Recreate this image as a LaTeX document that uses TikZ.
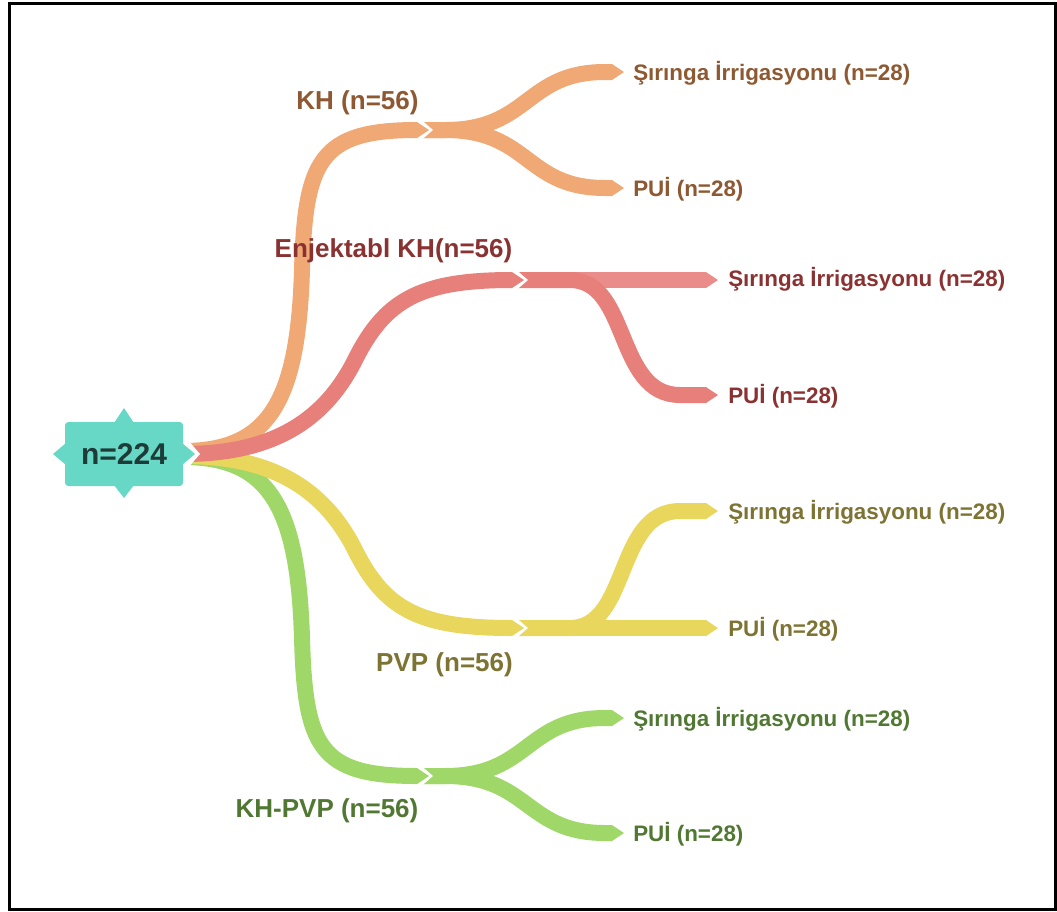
\documentclass[tikz,border=0pt]{standalone}
\usepackage{fontspec}
\setmainfont{Liberation Sans}
\definecolor{orB}{HTML}{F0A875}
\definecolor{orT}{HTML}{8E5932}
\definecolor{rdB}{HTML}{E77F7A}
\definecolor{rdL}{HTML}{EA8D8A}
\definecolor{rdT}{HTML}{8A3232}
\definecolor{ylB}{HTML}{E9D65C}
\definecolor{ylT}{HTML}{7D7332}
\definecolor{gnB}{HTML}{A0D769}
\definecolor{gnT}{HTML}{507832}
\definecolor{tlB}{HTML}{66D8C5}
\definecolor{tlT}{HTML}{1E3B37}
% tip of a ribbon: base x, y, colour
\newcommand{\ribtip}[3]{\fill[#3] (#1,#2-8) -- (#1+12,#2) -- (#1,#2+8) -- cycle;}
% white notch gap at a junction
\newcommand{\ribgap}[2]{\fill[white] (#1,#2-9.5) -- (#1+5,#2-9.5) -- (#1+16,#2) -- (#1+5,#2+9.5) -- (#1,#2+9.5) -- cycle;}
\begin{document}
\begin{tikzpicture}[x=0.75pt,y=-0.75pt,
  band/.style={line width=12pt},
  lbl/.style={font=\bfseries\fontsize{19.5}{22}\selectfont, anchor=base, inner sep=0pt},
  leaf/.style={font=\bfseries\fontsize{16.8}{19}\selectfont, anchor=base west, inner sep=0pt},
  rootbox/.style={fill=tlB, rounded corners=2.5pt, minimum width=88.5pt, minimum height=48pt, inner sep=0pt,
     text=tlT, font=\bfseries\fontsize{22.5}{26}\selectfont}]
\useasboundingbox (0,0) rectangle (1057,911);
\draw[line width=2.25pt] (9.5,3.5) -- (1055.5,3.5) -- (1055.5,909.5) -- (9.5,909.5) -- cycle;

% junction coordinates
\coordinate (R) at (183,454);
\coordinate (K) at (417,130);
\coordinate (E) at (512,280);
\coordinate (P) at (512,628);
\coordinate (G) at (417,776);
\coordinate (KA) at (612,72);
\coordinate (KB) at (612,188);
\coordinate (EA) at (706,280);
\coordinate (EB) at (706,395);
\coordinate (PA) at (706,511);
\coordinate (PB) at (706,628);
\coordinate (GA) at (612,718);
\coordinate (GB) at (612,833);

% second level ribbons
\draw[band, orB] (K) -- (445,130) .. controls (530,130) and (525,72) .. (605,72) -- (KA);
\draw[band, orB] (K) -- (445,130) .. controls (530,130) and (525,188) .. (605,188) -- (KB);
\ribtip{612}{72}{orB}
\ribtip{612}{188}{orB}
\draw[band, rdL] (E) -- (EA);
\draw[band, rdB] (E) -- (570,280) .. controls (630,280) and (615,395) .. (680,395) -- (EB);
\ribtip{706}{280}{rdL}
\ribtip{706}{395}{rdB}
\draw[band, ylB] (P) -- (PB);
\draw[band, ylB] (P) -- (570,628) .. controls (630,628) and (615,511) .. (680,511) -- (PA);
\ribtip{706}{511}{ylB}
\ribtip{706}{628}{ylB}
\draw[band, gnB] (G) -- (445,776) .. controls (530,776) and (525,718) .. (605,718) -- (GA);
\draw[band, gnB] (G) -- (445,776) .. controls (530,776) and (525,833) .. (605,833) -- (GB);
\ribtip{612}{718}{gnB}
\ribtip{612}{833}{gnB}

% notches
\ribgap{417}{130}
\ribgap{512}{280}
\ribgap{512}{628}
\ribgap{417}{776}

% first level ribbons
\draw[band, gnB] (183,457) .. controls (270,457) and (298,508) .. (302,638) .. controls (305,748) and (320,776) .. (G);
\draw[band, ylB] (183,456) .. controls (260,456) and (320,480) .. (355,550) .. controls (385,610) and (420,628) .. (P);
\draw[band, orB] (183,451) .. controls (270,451) and (298,400) .. (302,270) .. controls (305,160) and (320,130) .. (K);
\draw[band, rdB] (R) .. controls (260,454) and (320,430) .. (355,360) .. controls (385,300) and (420,280) .. (E);
\ribtip{417}{130}{orB}
\ribtip{512}{280}{rdB}
\ribtip{512}{628}{ylB}
\ribtip{417}{776}{gnB}

% root
\fill[white] (180,439) -- (187,439) -- (200,454) -- (187,469) -- (180,469) -- cycle;
\fill[tlB] (114,423) -- (124,408) -- (134,423) -- cycle;
\fill[tlB] (114,485) -- (124,498) -- (134,485) -- cycle;
\fill[tlB] (66,443) -- (53,454) -- (66,465) -- cycle;
\fill[tlB] (182,443) -- (195,454) -- (182,465) -- cycle;
\node[rootbox] (root) at (124,454) {n=224};

% labels
\node[lbl, text=orT] (lkh) at (357.5,109) {KH (n=56)};
\node[lbl, text=rdT] (lenj) at (393.5,257) {Enjektabl KH(n=56)};
\node[lbl, text=ylT] (lpvp) at (444.5,671) {PVP (n=56)};
\node[lbl, text=gnT] (lkhpvp) at (327,817) {KH-PVP (n=56)};

\node[leaf, text=orT] (l1) at (633,80) {Şırınga İrrigasyonu (n=28)};
\node[leaf, text=orT] (l2) at (633,196) {PUİ (n=28)};
\node[leaf, text=rdT] (l3) at (728,286) {Şırınga İrrigasyonu (n=28)};
\node[leaf, text=rdT] (l4) at (728,403) {PUİ (n=28)};
\node[leaf, text=ylT] (l5) at (728,519) {Şırınga İrrigasyonu (n=28)};
\node[leaf, text=ylT] (l6) at (728,636) {PUİ (n=28)};
\node[leaf, text=gnT] (l7) at (633,726) {Şırınga İrrigasyonu (n=28)};
\node[leaf, text=gnT] (l8) at (633,841) {PUİ (n=28)};
\end{tikzpicture}
\end{document}
